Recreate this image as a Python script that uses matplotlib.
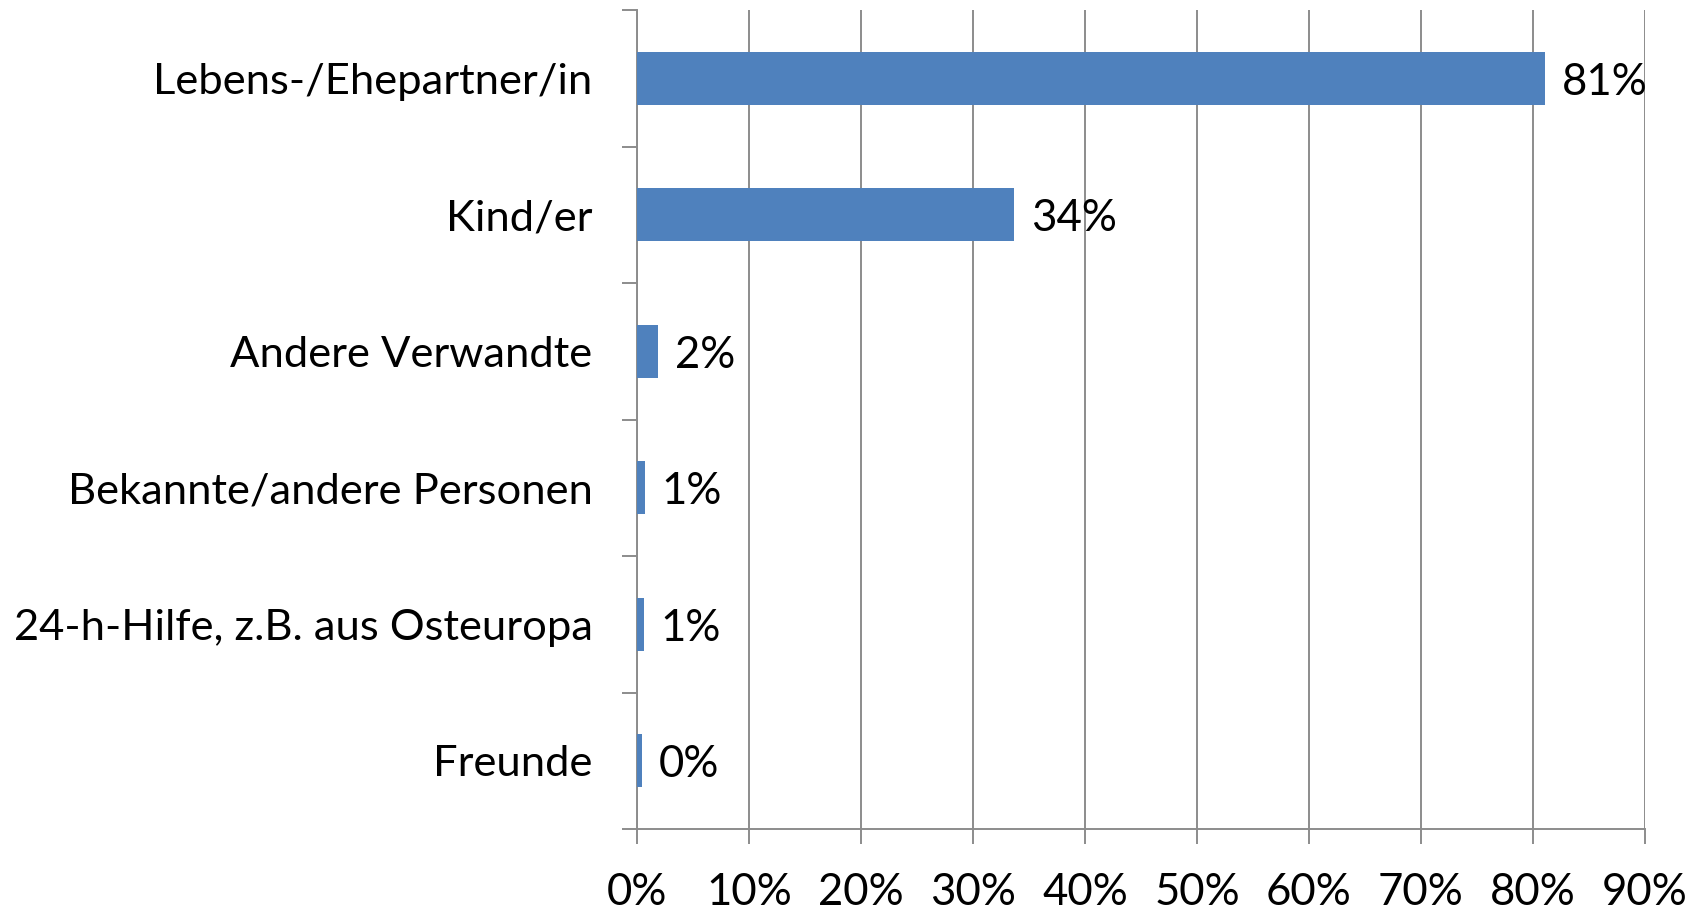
import matplotlib.pyplot as plt
import numpy as np
from matplotlib.ticker import FixedLocator

plt.rcParams['font.family'] = ['Lato', 'DejaVu Sans']

categories = [
    "Lebens-/Ehepartner/in",
    "Kind/er",
    "Andere Verwandte",
    "Bekannte/andere Personen",
    "24-h-Hilfe, z.B. aus Osteuropa",
    "Freunde",
]
values = [81.1, 33.7, 1.9, 0.7, 0.6, 0.4]
labels = ["81%", "34%", "2%", "1%", "1%", "0%"]

bar_color = "#4f81bd"
grid_color = "#8c8c8c"

fig = plt.figure(figsize=(17.01, 9.10), dpi=100)
ax = fig.add_axes([0.3745, 0.089, 0.5925, 0.9])

y = np.arange(len(categories))
ax.barh(y, values, height=0.39, color=bar_color, zorder=3)

for yi, v, lab in zip(y, values, labels):
    ax.text(v + 1.5, yi + 0.03, lab, va="center", ha="left", fontsize=31.5, color="black", zorder=4)

ax.set_xlim(0, 90)
ax.set_ylim(len(categories) - 0.5, -0.5)
ax.set_xticks(np.arange(0, 91, 10))
ax.set_xticklabels([f"{t}%" for t in range(0, 91, 10)])
ax.set_yticks(y)
ax.set_yticklabels(categories)
ax.yaxis.set_minor_locator(FixedLocator(np.arange(-0.5, len(categories), 1.0)))

ax.tick_params(axis="y", which="major", length=0, pad=32, labelsize=31.3)
ax.tick_params(axis="y", which="minor", length=11, width=1.4, color=grid_color, direction="out")
ax.tick_params(axis="x", which="major", length=11, width=1.4, color=grid_color, direction="out",
               pad=20, labelsize=31.5)

ax.grid(axis="x", color=grid_color, linewidth=1.4, zorder=1)
for side in ["top", "right"]:
    ax.spines[side].set_visible(False)
for side in ["left", "bottom"]:
    ax.spines[side].set_color(grid_color)
    ax.spines[side].set_linewidth(1.4)

fig.savefig("out.png", dpi=100)
